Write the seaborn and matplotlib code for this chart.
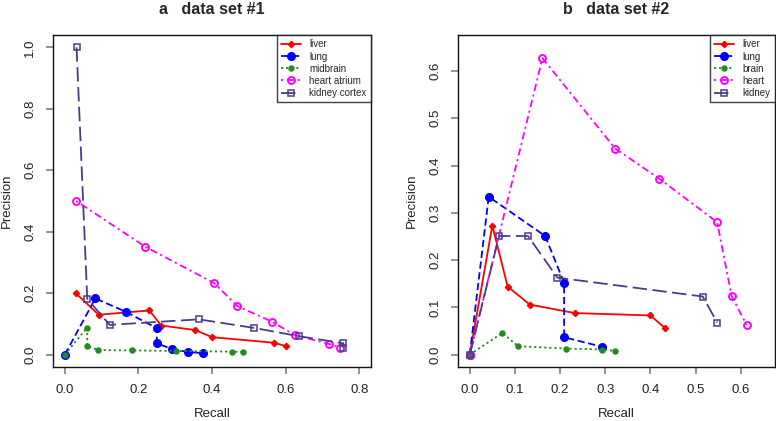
import numpy as np
import pandas as pd
import matplotlib
matplotlib.use("Agg")
import matplotlib.pyplot as plt
import seaborn as sns

# ---------------- data set #1 ----------------
a_labels = ["liver", "lung", "midbrain", "heart atrium", "kidney cortex"]
a_liver_x = [0.030, 0.092, 0.230, 0.262, 0.355, 0.400, 0.569, 0.600]
a_liver_y = [0.200, 0.130, 0.144, 0.095, 0.080, 0.057, 0.039, 0.028]
a_lung_x = [0.0, 0.083, 0.167, 0.250, 0.250, 0.292, 0.334, 0.375]
a_lung_y = [0.0, 0.183, 0.139, 0.086, 0.037, 0.018, 0.009, 0.005]
a_mid_x = [0.0, 0.061, 0.061, 0.091, 0.182, 0.303, 0.454, 0.485]
a_mid_y = [0.0, 0.088, 0.028, 0.015, 0.014, 0.012, 0.010, 0.009]
a_heart_x = [0.031, 0.219, 0.406, 0.469, 0.562, 0.625, 0.718, 0.749]
a_heart_y = [0.500, 0.351, 0.233, 0.158, 0.108, 0.064, 0.035, 0.023]
a_kid_x = [0.032, 0.061, 0.122, 0.364, 0.515, 0.637, 0.757, 0.757]
a_kid_y = [1.000, 0.182, 0.097, 0.115, 0.087, 0.060, 0.037, 0.023]

# ---------------- data set #2 ----------------
b_labels = ["liver", "lung", "brain", "heart", "kidney"]
b_liver_x = [0.0, 0.050, 0.084, 0.133, 0.233, 0.400, 0.433]
b_liver_y = [0.0, 0.273, 0.144, 0.106, 0.088, 0.083, 0.056]
b_lung_x = [0.0, 0.042, 0.167, 0.209, 0.209, 0.292]
b_lung_y = [0.0, 0.334, 0.251, 0.152, 0.037, 0.017]
b_brain_x = [0.0, 0.072, 0.107, 0.214, 0.292, 0.321]
b_brain_y = [0.0, 0.046, 0.018, 0.013, 0.011, 0.008]
b_heart_x = [0.0, 0.161, 0.322, 0.420, 0.548, 0.580, 0.613]
b_heart_y = [0.0, 0.627, 0.436, 0.372, 0.280, 0.124, 0.063]
b_kid_x = [0.0, 0.065, 0.129, 0.194, 0.516, 0.548]
b_kid_y = [0.0, 0.251, 0.251, 0.163, 0.123, 0.068]

titles = ["a   data set #1", "b   data set #2"]
x_ticks_a = [0.0, 0.2, 0.4, 0.6, 0.8]
y_ticks_a = [0.0, 0.2, 0.4, 0.6, 0.8, 1.0]
x_ticks_b = [0.0, 0.1, 0.2, 0.3, 0.4, 0.5, 0.6]
y_ticks_b = [0.0, 0.1, 0.2, 0.3, 0.4, 0.5, 0.6]

sns.set_theme(style="white")
plt.rcParams["font.family"] = ["Liberation Sans", "DejaVu Sans"]

styles = [
    dict(color="#FF0000", marker="D", ms=3.2, mfc="#FF0000", mec="#FF0000", ls="-"),
    dict(color="#0000FF", marker="o", ms=5.5, mfc="#0000FF", mec="#0000FF", ls=(0, (4, 2))),
    dict(color="#228B22", marker="o", ms=3.6, mfc="#228B22", mec="#228B22", ls=(0, (1.2, 1.6))),
    dict(color="#FF00FF", marker="o", ms=5.0, mfc="none", mec="#FF00FF", ls=(0, (1.2, 2, 4, 2)), mew=1.4),
    dict(color="#483D8B", marker="s", ms=4.6, mfc="none", mec="#483D8B", ls=(0, (8, 3)), mew=1.1),
]

fig = plt.figure(figsize=(7.76, 4.21), dpi=100)
ax1 = fig.add_axes([53 / 776, 1 - 367 / 421, 318 / 776, 332 / 421])
ax2 = fig.add_axes([458 / 776, 1 - 367 / 421, 317 / 776, 332 / 421])

panels = [
    (ax1, a_labels, [(a_liver_x, a_liver_y), (a_lung_x, a_lung_y), (a_mid_x, a_mid_y),
                     (a_heart_x, a_heart_y), (a_kid_x, a_kid_y)],
     (-0.032, 0.832), (-0.04, 1.04), x_ticks_a, y_ticks_a),
    (ax2, b_labels, [(b_liver_x, b_liver_y), (b_lung_x, b_lung_y), (b_brain_x, b_brain_y),
                     (b_heart_x, b_heart_y), (b_kid_x, b_kid_y)],
     (-0.026, 0.676), (-0.026, 0.676), x_ticks_b, y_ticks_b),
]

for i, (ax, labels, series, xl, yl, xt, yt) in enumerate(panels):
    handles = []
    for lab, (xs, ys), st in zip(labels, series, styles):
        df = pd.DataFrame({"Recall": xs, "Precision": ys})
        st = dict(st)
        ls = st.pop("ls")
        mew = st.pop("mew", 1.0)
        sns.lineplot(data=df, x="Recall", y="Precision", ax=ax, sort=False,
                     estimator=None, linestyle=ls, lw=1.3, mew=mew,
                     label=lab, legend=False, **st)
        handles.append(ax.lines[-1])
    ax.set_xlim(*xl)
    ax.set_ylim(*yl)
    ax.set_xticks(xt)
    ax.set_yticks(yt)
    ax.set_xticklabels([f"{v:.1f}" for v in xt])
    ax.set_yticklabels([f"{v:.1f}" for v in yt], rotation=90, va="center")
    ax.tick_params(axis="both", which="major", direction="out", length=5,
                   width=1.2, color="#808080", labelsize=9.5, labelcolor="#222222",
                   bottom=True, left=True, pad=7)
    ax.set_xlabel("Recall", fontsize=9.5, labelpad=9, color="#222222")
    ax.set_ylabel("Precision", fontsize=9.5, labelpad=8, color="#222222")
    for sp in ax.spines.values():
        sp.set_color("#111111")
        sp.set_linewidth(1.0)
    ax.set_title(titles[i], fontsize=11.5, fontweight="bold", pad=15)
    leg = ax.legend(handles=handles, labels=labels, loc="upper right",
                    fontsize=7.0, frameon=True, fancybox=False,
                    borderaxespad=0, handlelength=2.0, handletextpad=0.9,
                    labelspacing=0.22, borderpad=0.45)
    leg.get_frame().set_edgecolor("#111111")
    leg.get_frame().set_linewidth(1.0)

fig.savefig("out.png", dpi=100)
